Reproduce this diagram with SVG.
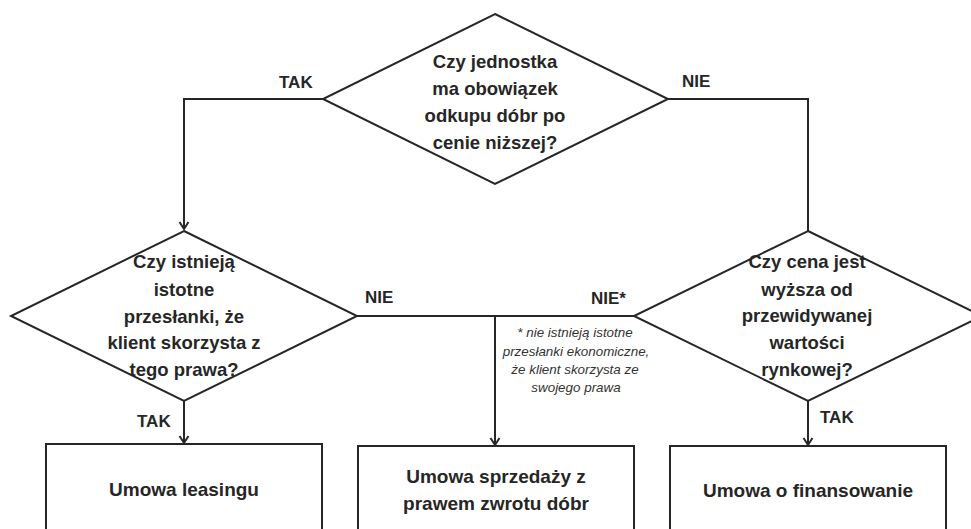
<svg xmlns="http://www.w3.org/2000/svg" width="971" height="529" viewBox="0 0 971 529">
  <defs>
    <marker id="arr" markerUnits="userSpaceOnUse" markerWidth="12" markerHeight="12" viewBox="0 0 12 12" refX="10" refY="6" orient="auto">
      <path d="M3,1.5 L10,6 L3,10.5" fill="none" stroke="#262626" stroke-width="2"/>
    </marker>
    <style>
      .shape { fill: #ffffff; stroke: #262626; stroke-width: 2; }
      .conn { fill: none; stroke: #262626; stroke-width: 2; }
      .q { font-family: "Liberation Sans", Arial, sans-serif; font-weight: bold; font-size: 18.5px; fill: #262626; text-anchor: middle; }
      .box { font-family: "Liberation Sans", Arial, sans-serif; font-weight: bold; font-size: 19px; fill: #262626; text-anchor: middle; }
      .lbl { font-family: "Liberation Sans", Arial, sans-serif; font-weight: bold; font-size: 17px; fill: #262626; }
      .note { font-family: "Liberation Sans", Arial, sans-serif; font-style: italic; font-size: 13.4px; fill: #333333; text-anchor: middle; }
    </style>
  </defs>
  <rect x="0" y="0" width="971" height="529" fill="#ffffff"/>

  <g id="connectors">
    <path class="conn" d="M323,99 H184 V229" marker-end="url(#arr)"/>
    <path class="conn" d="M668,99 H808 V231"/>
    <path class="conn" d="M357,316 H634"/>
    <path class="conn" d="M495,316 V445" marker-end="url(#arr)"/>
    <path class="conn" d="M184,401 V443" marker-end="url(#arr)"/>
    <path class="conn" d="M808,401 V445" marker-end="url(#arr)"/>
    <text class="lbl" x="279" y="88">TAK</text>
    <text class="lbl" x="682" y="87">NIE</text>
    <text class="lbl" x="365" y="303">NIE</text>
    <text class="lbl" x="591" y="304">NIE*</text>
    <text class="lbl" x="137" y="427">TAK</text>
    <text class="lbl" x="820" y="423">TAK</text>
    <g id="footnote">
      <text class="note" x="575" y="337">* nie istnieją istotne</text>
      <text class="note" x="576" y="356">przesłanki  ekonomiczne,</text>
      <text class="note" x="575" y="374">że klient skorzysta  ze</text>
      <text class="note" x="576" y="392">swojego prawa</text>
    </g>
  </g>

  <g id="decision-top">
    <polygon class="shape" points="495,14 668,99 495,184 323,99"/>
    <text class="q" x="495" y="68">Czy jednostka</text>
    <text class="q" x="495" y="95">ma obowiązek</text>
    <text class="q" x="495" y="122">odkupu dóbr po</text>
    <text class="q" x="495" y="149">cenie niższej?</text>
  </g>

  <g id="decision-left">
    <polygon class="shape" points="184,231 357,316 184,401 11,316"/>
    <text class="q" x="184" y="268">Czy istnieją</text>
    <text class="q" x="184" y="296">istotne</text>
    <text class="q" x="184" y="323">przesłanki, że</text>
    <text class="q" x="184" y="349">klient skorzysta z</text>
    <text class="q" x="184" y="376">tego prawa?</text>
  </g>

  <g id="decision-right">
    <polygon class="shape" points="808,231 982,316 808,401 634,316"/>
    <text class="q" x="807" y="268">Czy cena jest</text>
    <text class="q" x="807" y="296">wyższa od</text>
    <text class="q" x="807" y="322">przewidywanej</text>
    <text class="q" x="807" y="349">wartości</text>
    <text class="q" x="807" y="376">rynkowej?</text>
  </g>

  <g id="box-leasing">
    <rect class="shape" x="46" y="444" width="276" height="100"/>
    <text class="box" x="184" y="496">Umowa leasingu</text>
  </g>

  <g id="box-sprzedaz">
    <rect class="shape" x="358" y="446" width="276" height="100"/>
    <text class="box" x="496" y="483">Umowa sprzedaży z</text>
    <text class="box" x="496" y="510">prawem zwrotu dóbr</text>
  </g>

  <g id="box-finansowanie">
    <rect class="shape" x="670" y="446" width="276" height="100"/>
    <text class="box" x="808" y="497">Umowa o finansowanie</text>
  </g>
</svg>
